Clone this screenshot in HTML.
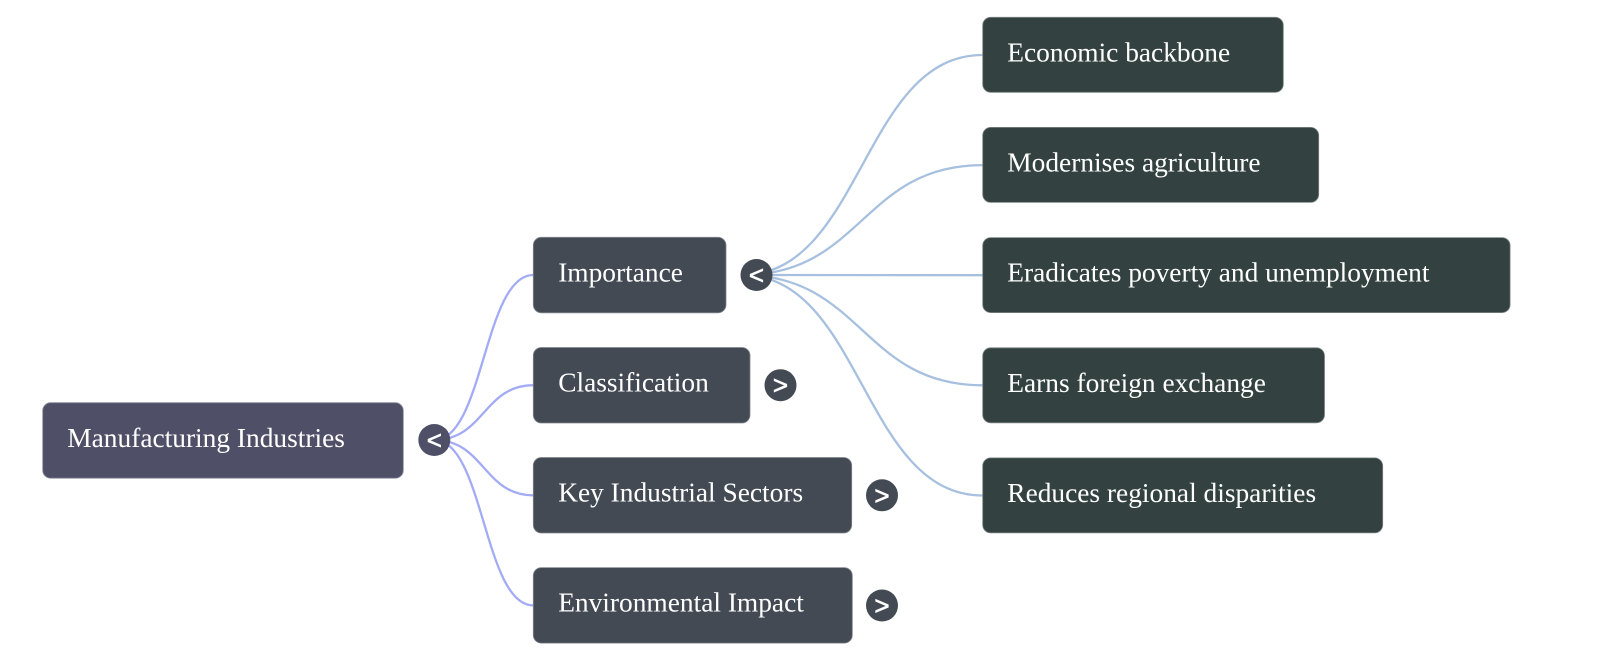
<!DOCTYPE html>
<html>
<head>
<meta charset="utf-8">
<style>
  html, body { margin: 0; padding: 0; background: #ffffff; }
  svg { display: block; }
  .t { font-family: "Liberation Serif", "Times New Roman", serif; font-size: 27.4px; fill: #ffffff; }
  .chev { font-family: "Liberation Sans", Arial, sans-serif; font-size: 26px; font-weight: normal; fill: #ffffff; text-anchor: middle; stroke: #ffffff; stroke-width: 0.6; }
</style>
</head>
<body>
<svg width="1600" height="661" viewBox="0 0 1600 661" xmlns="http://www.w3.org/2000/svg">
  <rect x="0" y="0" width="1600" height="661" fill="#ffffff"/>

  <!-- root links -->
  <g fill="none" stroke="#a3abf6" stroke-width="2.3">
    <path d="M434.3,440 C483.8,440 483.8,275 533.3,275"/>
    <path d="M434.3,440 C483.8,440 483.8,385.2 533.3,385.2"/>
    <path d="M434.3,440 C483.8,440 483.8,495.3 533.3,495.3"/>
    <path d="M434.3,440 C483.8,440 483.8,605.4 533.3,605.4"/>
  </g>

  <!-- importance links -->
  <g fill="none" stroke="#a7c0df" stroke-width="2.3">
    <path d="M742,275 C862.3,275 862.3,55 982.7,55"/>
    <path d="M742,275 C862.3,275 862.3,165.1 982.7,165.1"/>
    <path d="M742,275 L982.7,275.2"/>
    <path d="M742,275 C862.3,275 862.3,385.3 982.7,385.3"/>
    <path d="M742,275 C862.3,275 862.3,495.5 982.7,495.5"/>
  </g>

  <!-- root -->
  <rect x="42.7" y="402.7" width="360.6" height="75.5" rx="8" ry="8" fill="#4f5068" stroke="#8b8c9c" stroke-width="0.8"/>
  <text class="t" x="67.3" y="446.8">Manufacturing Industries</text>
  <circle cx="434.3" cy="440" r="16" fill="#4f5068"/>
  <text class="chev" x="434.3" y="449">&lt;</text>

  <!-- level 1 -->
  <g stroke="#81868e" stroke-width="0.8" fill="#434a54">
    <rect x="533.3" y="237.3" width="192.7" height="75.5" rx="8" ry="8"/>
    <rect x="533.3" y="347.5" width="216.7" height="75.5" rx="8" ry="8"/>
    <rect x="533.3" y="457.5" width="318.4" height="75.5" rx="8" ry="8"/>
    <rect x="533.3" y="567.6" width="319" height="75.5" rx="8" ry="8"/>
  </g>
  <text class="t" x="558.2" y="281.4">Importance</text>
  <text class="t" x="558.2" y="391.6">Classification</text>
  <text class="t" x="558.2" y="501.6">Key Industrial Sectors</text>
  <text class="t" x="558.2" y="611.7">Environmental Impact</text>

  <g fill="#434a54">
    <circle cx="756.5" cy="275" r="16"/>
    <circle cx="780.5" cy="385.2" r="16"/>
    <circle cx="882" cy="495.3" r="16"/>
    <circle cx="882" cy="605.5" r="16"/>
  </g>
  <text class="chev" x="756.5" y="284">&lt;</text>
  <text class="chev" x="780.5" y="394.2">&gt;</text>
  <text class="chev" x="882" y="504.3">&gt;</text>
  <text class="chev" x="882" y="614.5">&gt;</text>

  <!-- level 2 -->
  <g stroke="#7c8584" stroke-width="0.8" fill="#334240">
    <rect x="982.7" y="17.3" width="300.6" height="75" rx="8" ry="8"/>
    <rect x="982.7" y="127.4" width="336" height="75" rx="8" ry="8"/>
    <rect x="982.7" y="237.6" width="527.4" height="75" rx="8" ry="8"/>
    <rect x="982.7" y="347.8" width="341.8" height="75" rx="8" ry="8"/>
    <rect x="982.7" y="457.9" width="400" height="75" rx="8" ry="8"/>
  </g>
  <text class="t" x="1007.3" y="61.3">Economic backbone</text>
  <text class="t" x="1007.3" y="171.4">Modernises agriculture</text>
  <text class="t" x="1007.3" y="281.6">Eradicates poverty and unemployment</text>
  <text class="t" x="1007.3" y="391.8">Earns foreign exchange</text>
  <text class="t" x="1007.3" y="501.9">Reduces regional disparities</text>
</svg>
</body>
</html>
